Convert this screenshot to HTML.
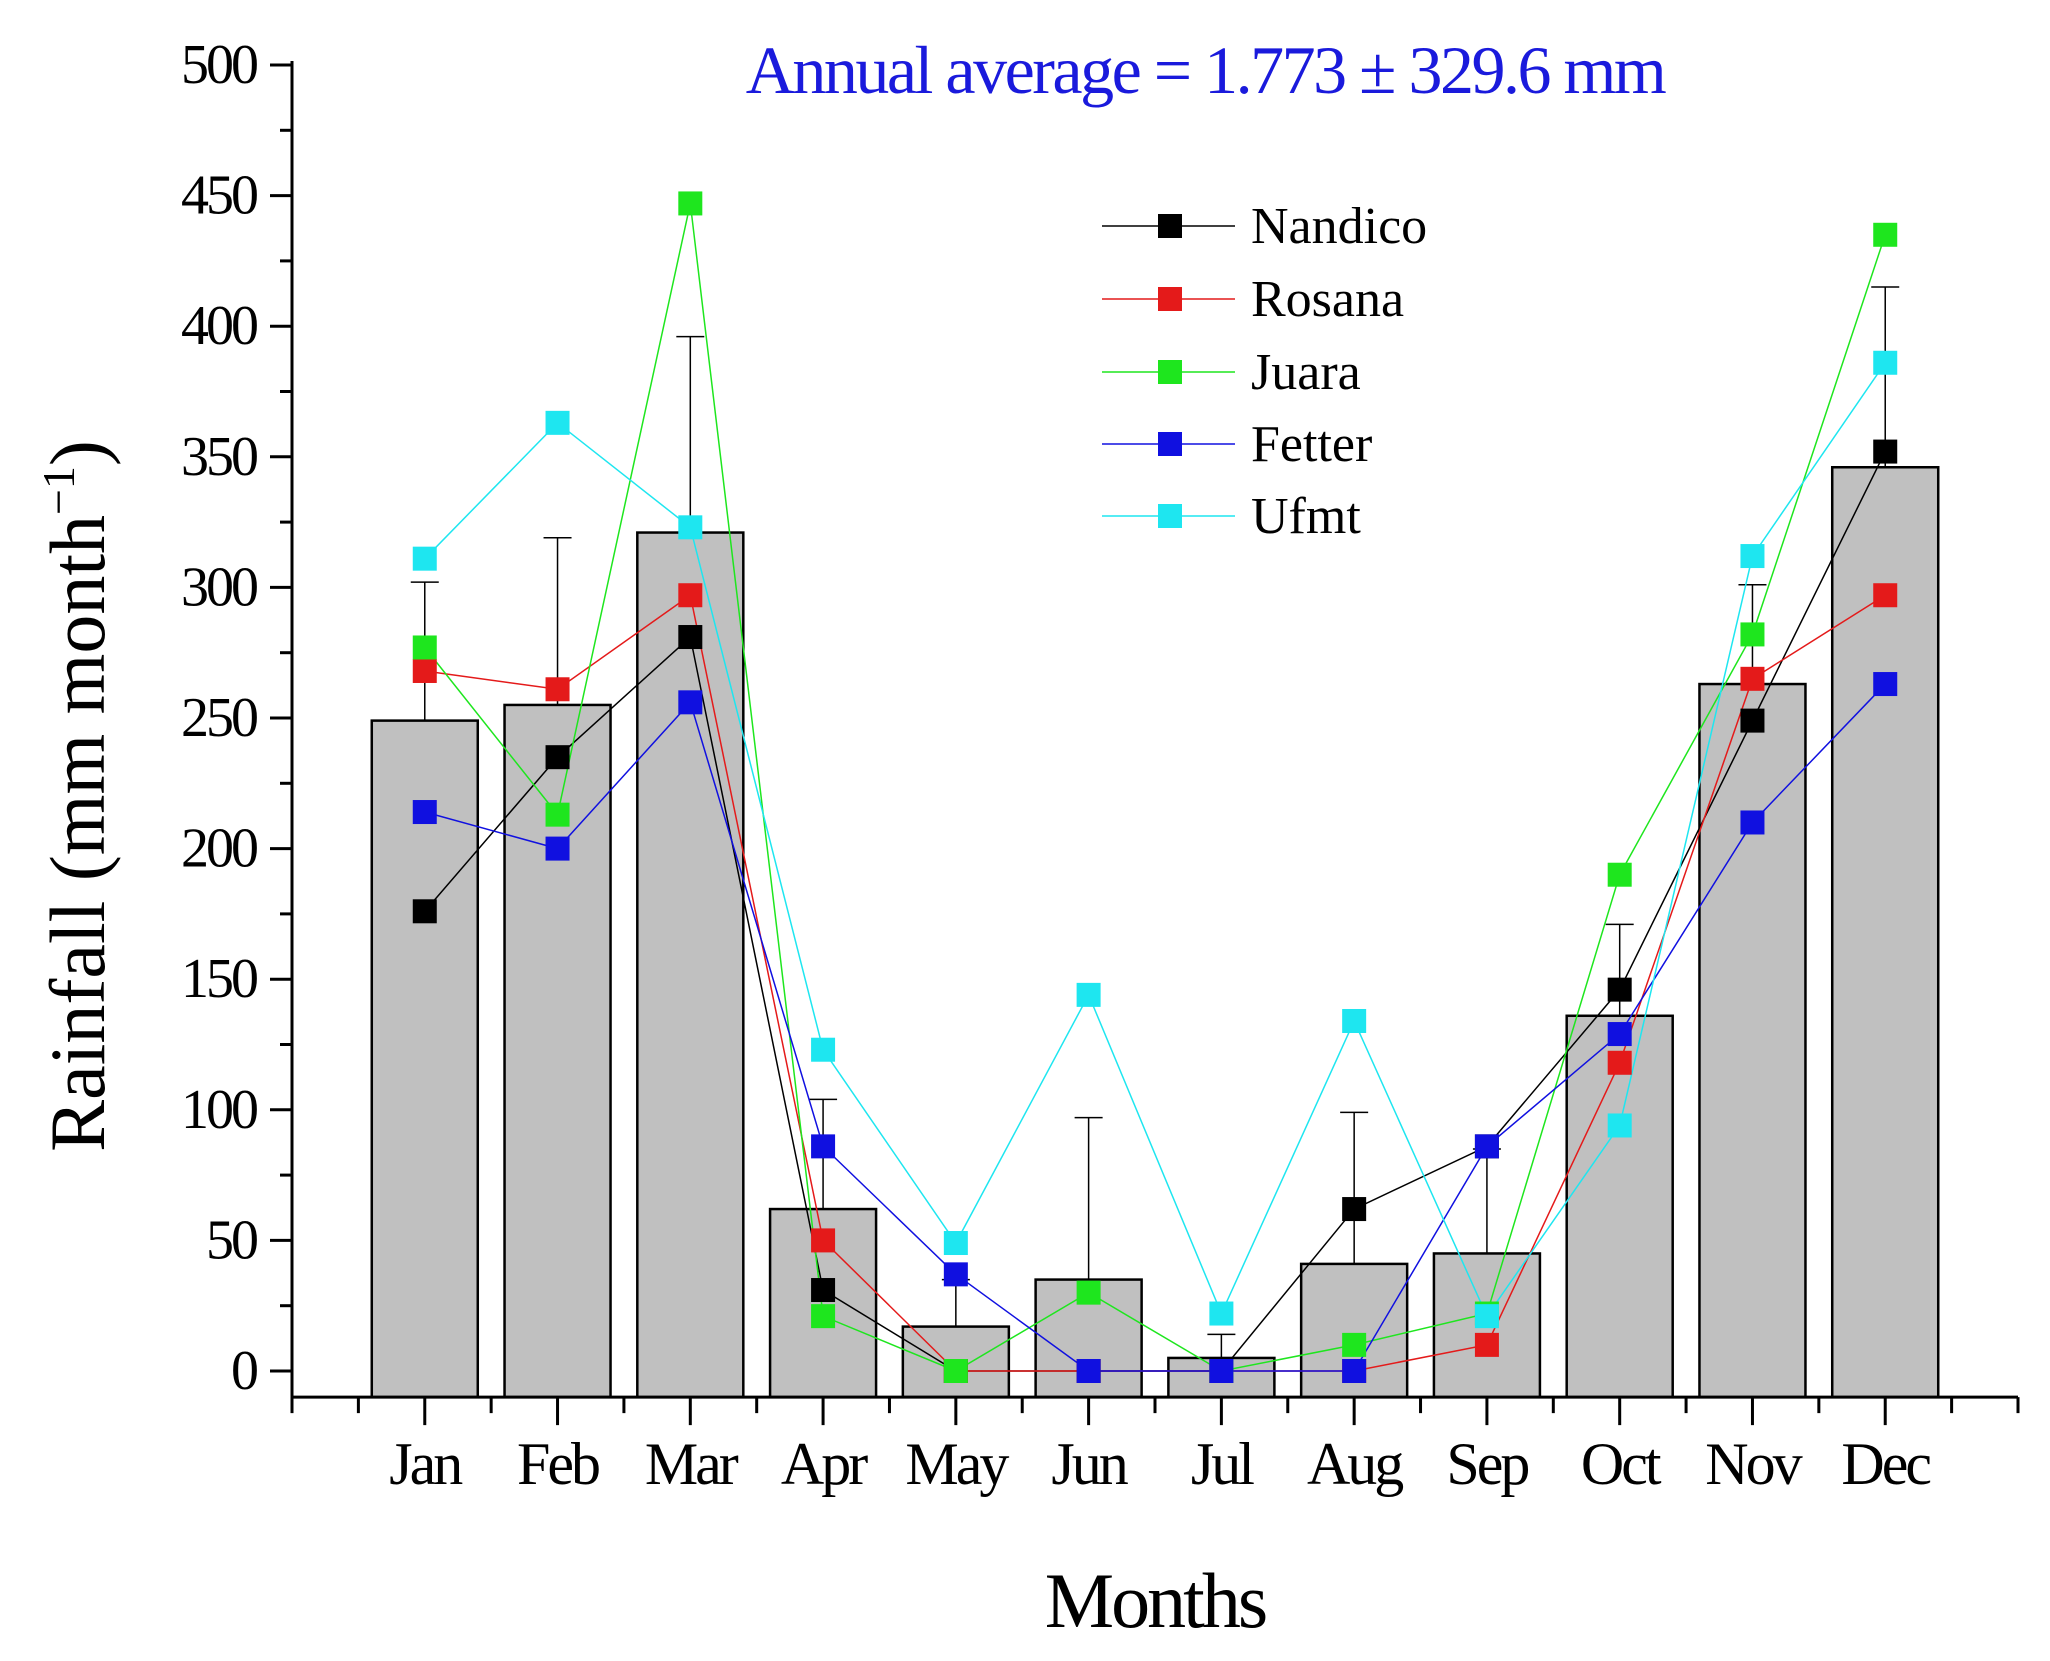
<!DOCTYPE html>
<html><head><meta charset="utf-8"><style>
html,body{margin:0;padding:0;background:#fff;}
svg{display:block;font-family:"Liberation Serif",serif;}
</style></head><body>
<svg id="chart" width="2050" height="1661" viewBox="0 0 2050 1661" xmlns="http://www.w3.org/2000/svg">
<text x="1205" y="93" text-anchor="middle" font-size="68" fill="#1a1adc" letter-spacing="-2.5">Annual average = 1.773 ± 329.6 mm</text>
<text x="1155" y="1627" text-anchor="middle" font-size="78" letter-spacing="-3">Months</text>
<text transform="translate(104,796) rotate(-90)" text-anchor="middle" font-size="78">Rainfall (mm month<tspan dy="-30" font-size="46">−1</tspan><tspan dy="30">)</tspan></text>
<g id="plot"></g>
</svg>
<script>
const months = ["Jan","Feb","Mar","Apr","May","Jun","Jul","Aug","Sep","Oct","Nov","Dec"];
const meanValues = [249,255,321,62,17,35,5,41,45,136,263,346];
const errorTops = [302,319,396,104,35,97,14,99,85,171,301,415];
const nandico = [176,235,281,31,0,0,0,62,86,146,249,352];
const rosana = [268,261,297,50,0,0,0,0,10,118,265,297];
const juara = [277,213,447,21,0,30,0,10,22,190,282,435];
const fetter = [214,200,256,86,37,0,0,0,86,129,210,263];
const ufmt = [311,363,323,123,49,144,22,134,21,94,312,386];
const seriesNames = ["Nandico","Rosana","Juara","Fetter","Ufmt"];
const yTicks = [0,50,100,150,200,250,300,350,400,450,500];

const NS="http://www.w3.org/2000/svg";
const g=document.getElementById('plot');
const X0=292,X1=2018,Y0=1371,Y500=65;
const xs=i=>X0+(i+1)*(X1-X0)/13;
const ys=v=>Y0+(Y500-Y0)*v/500;
const yBottom=ys(-10);
function mk(t,a){const e=document.createElementNS(NS,t);for(const k in a)e.setAttribute(k,a[k]);g.appendChild(e);return e;}

meanValues.forEach((v,i)=>{
  const r=mk('rect',{x:xs(i)-53,y:ys(v),width:106,height:yBottom-ys(v),fill:'#c0c0c0',stroke:'#000','stroke-width':2.5});
  
  
});
errorTops.forEach((v,i)=>{
  const l=mk('path',{d:`M${xs(i)},${ys(meanValues[i])}V${ys(v)}M${xs(i)-14},${ys(v)}H${xs(i)+14}`,stroke:'#000','stroke-width':1.5,fill:'none'});
  
  
});
const ax=mk('path',{d:`M${X0},${Y500-4}V${yBottom}H${X1}`,stroke:'#000','stroke-width':3,fill:'none'});


for(let v=0;v<=500;v+=25){
  const major=v%50===0;
  const t=mk('line',{x1:X0,x2:X0-(major?22:12),y1:ys(v),y2:ys(v),stroke:'#000','stroke-width':3});
  
  
}
yTicks.forEach(v=>{
  const t=mk('text',{x:256,y:ys(v)+18,'text-anchor':'end','font-size':56,'letter-spacing':-3});
  t.textContent=v;
  
  
});
for(let k=0;k<=26;k++){
  const x=X0+k*(X1-X0)/26;
  const major=k%2===0;
  const t=mk('line',{x1:x,x2:x,y1:yBottom,y2:yBottom+(major&&k>0&&k<26?28:16),stroke:'#000','stroke-width':3});
  
  
}
months.forEach((m,i)=>{
  const t=mk('text',{x:xs(i),y:1484,'text-anchor':'middle','font-size':60,'letter-spacing':-3});
  t.textContent=m;
  
  
});
const allSeries=[nandico,rosana,juara,fetter,ufmt];
const colors=['#000000','#e41a1a','#1ee61e','#1010e0','#1ee6f0'];
allSeries.forEach((s,si)=>{
  const p=mk('polyline',{points:s.map((v,i)=>xs(i)+','+ys(v)).join(' '),fill:'none',stroke:colors[si],'stroke-width':1.5});
  
  
});
allSeries.forEach((s,si)=>{
  s.forEach((v,i)=>{
    const r=mk('rect',{x:xs(i)-12,y:ys(v)-12,width:24,height:24,fill:colors[si]});
    
    
  });
});
const legY=[226,299,372,444,516];
seriesNames.forEach((n,si)=>{
  const y=legY[si];
  const l=mk('line',{x1:1102,x2:1235,y1:y,y2:y,stroke:colors[si],'stroke-width':1.5});
  
  
  const r=mk('rect',{x:1158,y:y-12,width:24,height:24,fill:colors[si]});
  
  
  const t=mk('text',{x:1251,y:y+17,'font-size':52});
  t.textContent=n;
  
  
});
</script>
</body></html>
